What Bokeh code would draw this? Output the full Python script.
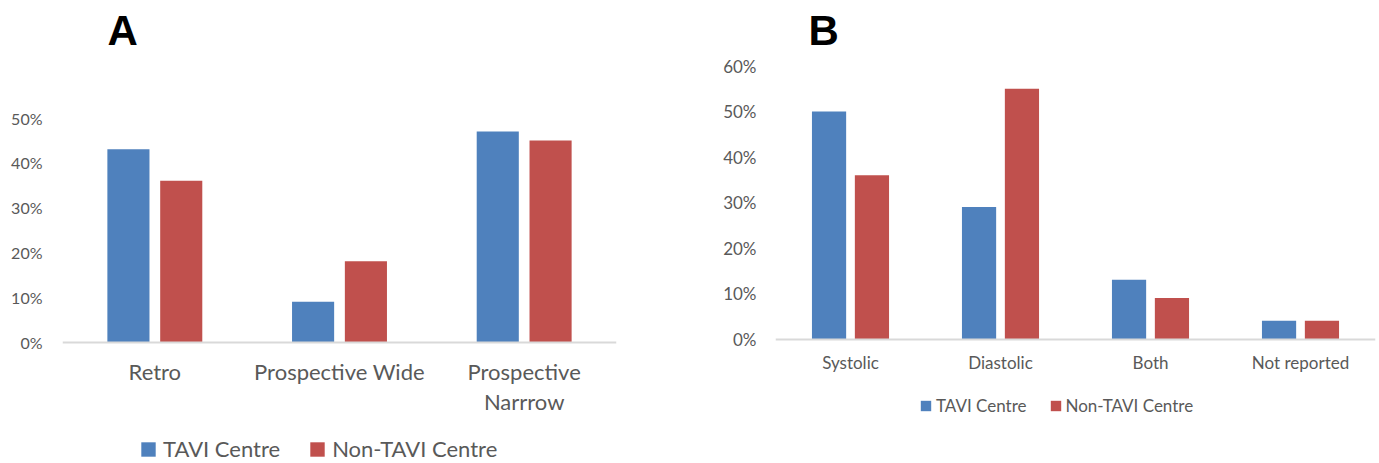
from bokeh.plotting import figure
from bokeh.layouts import row
from bokeh.models import (FactorRange, Range1d, FixedTicker, NumeralTickFormatter,
                          Legend, LegendItem, Label, ColumnDataSource)
from bokeh.transform import dodge
from bokeh.embed import file_html
from bokeh.resources import INLINE

# ---------------- data ----------------
series_names = ["TAVI Centre", "Non-TAVI Centre"]
series_colors = ["#4F81BD", "#C0504D"]

a_categories = ["Retro", "Prospective Wide", "Prospective\nNarrrow"]
a_tavi = [0.43, 0.09, 0.47]
a_non_tavi = [0.36, 0.18, 0.45]
a_ticks = [0.0, 0.1, 0.2, 0.3, 0.4, 0.5]

b_categories = ["Systolic", "Diastolic", "Both", "Not reported"]
b_tavi = [0.50, 0.29, 0.13, 0.04]
b_non_tavi = [0.36, 0.55, 0.09, 0.04]
b_ticks = [0.0, 0.1, 0.2, 0.3, 0.4, 0.5, 0.6]

FONT = "Lato"
GRAY = "#595959"
H = 463  # figure height (frame spans it fully)


def make_panel(letter, cats, v1, v2, ticks, width, border_lr, zero_px, px_per_unit,
               tick_fs, tick_standoff, cat_fs, cat_standoff, leg_fs, leg_glyph,
               leg_loc, leg_spacing, leg_standoff, letter_pos):
    # frame spans the full figure height; zero_px = distance of y=0 from the top
    y_end = zero_px / px_per_unit
    y_start = -(H - zero_px) / px_per_unit
    src = ColumnDataSource(dict(cat=cats, s1=v1, s2=v2))
    p = figure(width=width, height=H,
               x_range=FactorRange(factors=cats, range_padding=0),
               y_range=Range1d(y_start, y_end),
               output_backend="svg", toolbar_location=None,
               min_border_left=border_lr[0], min_border_right=border_lr[1],
               min_border_top=0, min_border_bottom=0)
    p.outline_line_color = None
    p.xgrid.visible = False
    p.ygrid.visible = False

    bw = 0.228
    off = 0.143
    r1 = p.vbar(x=dodge("cat", -off, range=p.x_range), top="s1", bottom=0, width=bw,
                source=src, fill_color=series_colors[0], line_color=None)
    r2 = p.vbar(x=dodge("cat", off, range=p.x_range), top="s2", bottom=0, width=bw,
                source=src, fill_color=series_colors[1], line_color=None)

    # y axis
    ya = p.yaxis[0]
    ya.ticker = FixedTicker(ticks=ticks)
    ya.formatter = NumeralTickFormatter(format="0%")
    ya.axis_line_color = None
    ya.major_tick_line_color = None
    ya.minor_tick_line_color = None
    ya.major_label_standoff = tick_standoff
    ya.major_label_text_font = FONT
    ya.major_label_text_font_size = tick_fs
    ya.major_label_text_color = GRAY

    # x axis, drawn at y = 0 inside the frame
    xa = p.xaxis[0]
    xa.fixed_location = 0
    xa.axis_line_color = "#D9D9D9"
    xa.axis_line_width = 2
    xa.major_tick_line_color = None
    xa.minor_tick_line_color = None
    xa.major_label_standoff = cat_standoff
    xa.major_label_text_font = FONT
    xa.major_label_text_font_size = cat_fs
    xa.major_label_text_color = GRAY
    xa.major_label_text_line_height = 1.1
    xa.major_label_orientation = "horizontal"

    legend = Legend(items=[LegendItem(label=series_names[0], renderers=[r1]),
                           LegendItem(label=series_names[1], renderers=[r2])],
                    orientation="horizontal", location=leg_loc,
                    border_line_color=None, background_fill_alpha=0,
                    padding=0, margin=0, spacing=leg_spacing,
                    glyph_width=leg_glyph, glyph_height=leg_glyph,
                    label_standoff=leg_standoff,
                    label_text_font=FONT, label_text_font_size=leg_fs,
                    label_text_color=GRAY)
    p.add_layout(legend)

    p.add_layout(Label(x=letter_pos[0], y=letter_pos[1], x_units="screen",
                       y_units="screen", text=letter,
                       text_font="Liberation Sans", text_font_style="bold",
                       text_font_size="42px", text_color="black",
                       text_align="left", text_baseline="alphabetic"))
    return p


pA = make_panel("A", a_categories, a_tavi, a_non_tavi, a_ticks,
                width=680, border_lr=(62, 64), zero_px=341.5, px_per_unit=448,
                tick_fs="16px", tick_standoff=14, cat_fs="22px", cat_standoff=10,
                leg_fs="22px", leg_glyph=18, leg_loc=(77, 1),
                leg_spacing=28, leg_standoff=6, letter_pos=(45, 433))

pB = make_panel("B", b_categories, b_tavi, b_non_tavi, b_ticks,
                width=699, border_lr=(95, 4), zero_px=338.5, px_per_unit=455,
                tick_fs="17px", tick_standoff=13, cat_fs="17px", cat_standoff=7,
                leg_fs="17px", leg_glyph=13, leg_loc=(144, 47),
                leg_spacing=22, leg_standoff=4, letter_pos=(33, 433))

layout = row(pA, pB)
open("out.html", "w").write(file_html(layout, INLINE))
